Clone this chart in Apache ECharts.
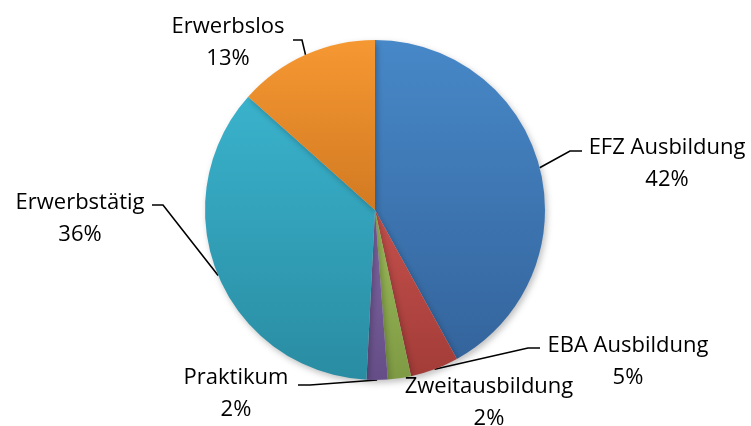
<!DOCTYPE html>
<html>
<head>
<meta charset="utf-8">
<script src="https://cdn.jsdelivr.net/npm/echarts@6/dist/echarts.min.js"></script>
<style>
  html, body { margin: 0; padding: 0; background: #fff; }
  #chart { width: 751px; height: 426px; }
</style>
</head>
<body>
<div id="chart"></div>
<script>
// Anteile (geschätzt aus dem Bild), im Uhrzeigersinn ab 12 Uhr
const categories = ["EFZ Ausbildung", "EBA Ausbildung", "Zweitausbildung", "Praktikum", "Erwerbstätig", "Erwerbslos"];
const shares = [42.0, 4.6, 2.2, 2.0, 35.8, 13.4];

// Farben (Excel-Palette, oben hell / unten dunkel)
const colorsTop = ["#4788c8", "#c4504c", "#9cbc5a", "#8066a4", "#3ab2cc", "#f69832"];
const colorsBottom = ["#34649c", "#a33c38", "#7e9a44", "#654e87", "#298ca2", "#d27a22"];

// Textpositionen der Beschriftungen (Mittelpunkt der Zeilen) und Knick der Linie
const labelPos = [
  { x: 667, y: 164, knee: [570, 151], end: [582, 151] },
  { x: 628, y: 362, knee: [528, 348], end: [540, 348] },
  { x: 489, y: 403, knee: null, end: null },
  { x: 236, y: 394, knee: [310, 385], end: [298, 385] },
  { x: 80, y: 219, knee: [163, 205], end: [152, 205] },
  { x: 228, y: 43, knee: [302, 40], end: [293, 40] },
];

const chart = echarts.init(document.getElementById("chart"));

const data = categories.map((name, i) => ({
  name: name,
  value: shares[i],
  itemStyle: {
    color: new echarts.graphic.LinearGradient(0, 0, 0, 1, [
      { offset: 0, color: colorsTop[i] },
      { offset: 1, color: colorsBottom[i] },
    ]),
  },
  labelLine: { show: labelPos[i].knee != null },
}));

chart.setOption({
  animation: false,
  series: [
    {
      type: "pie",
      center: [375, 210],
      radius: 170,
      startAngle: 90,
      clockwise: true,
      percentPrecision: 0,
      avoidLabelOverlap: false,
      data: data,
      itemStyle: {
        shadowBlur: 6,
        shadowOffsetX: 2,
        shadowOffsetY: 3,
        shadowColor: "rgba(0,0,0,0.25)",
      },
      label: {
        show: true,
        formatter: "{b}\n{d}%",
        fontFamily: "'Open Sans', Lato, sans-serif",
        fontSize: 22,
        lineHeight: 32,
        color: "#000",
        align: "center",
      },
      labelLine: {
        show: true,
        lineStyle: { color: "#000", width: 1.6 },
      },
      labelLayout: function (params) {
        const p = labelPos[params.dataIndex];
        const out = {
          x: p.x,
          y: p.y,
          align: "center",
          verticalAlign: "middle",
        };
        if (p.knee && params.labelLinePoints) {
          out.labelLinePoints = [params.labelLinePoints[0], p.knee, p.end];
        }
        return out;
      },
    },
  ],
});
</script>
</body>
</html>
